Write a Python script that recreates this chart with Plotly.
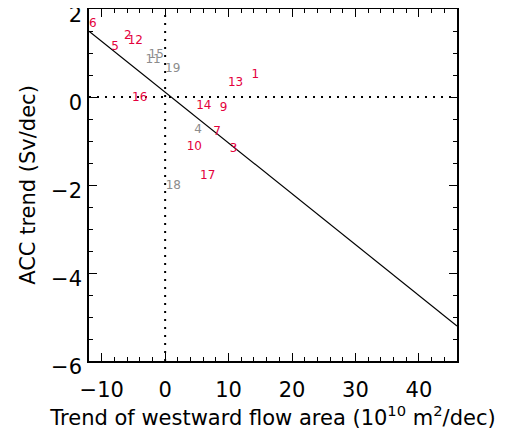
import plotly.graph_objects as go

# trends per model
labels = ['1', '2', '3', '4', '5', '6', '7', '8', '9', '10',
          '11', '12', '13', '14', '15', '16', '17', '18', '19']
area_trend = [14.2, -5.9, 10.8, 5.2, -7.9, -11.4, 8.2, 46.3, 9.2, 4.6,
              -1.9, -4.7, 11.1, 6.1, -1.4, -4.0, 6.7, 1.3, 1.2]
acc_trend = [0.50, 1.39, -1.18, -0.75, 1.14, 1.66, -0.79, -5.66, -0.26, -1.13,
             0.84, 1.27, 0.31, -0.20, 0.95, -0.03, -1.79, -2.02, 0.63]
is_grey = [False, False, False, True, False, False, False, False, False, False,
           True, False, False, False, True, False, False, True, True]

# regression line
fit_x = [-12, 46]
fit_slope = -0.1155
fit_icpt = 0.11

red = '#e4003c'
grey = '#8c8c8c'
font = 'DejaVu Sans'

fig = go.Figure()

fig.add_trace(go.Scatter(
    x=[-12, 46], y=[0, 0], mode='lines',
    line=dict(color='black', width=2, dash='2px,6px'), hoverinfo='skip'))
fig.add_trace(go.Scatter(
    x=[0, 0], y=[-6, 2], mode='lines',
    line=dict(color='black', width=2, dash='2px,6px'), hoverinfo='skip'))

fig.add_trace(go.Scatter(
    x=fit_x, y=[fit_icpt + fit_slope * x for x in fit_x], mode='lines',
    line=dict(color='black', width=1.2)))

fig.add_trace(go.Scatter(
    x=area_trend, y=acc_trend, mode='text', text=labels,
    textposition='middle center',
    textfont=dict(family=font, size=12,
                  color=[grey if g else red for g in is_grey]),
    cliponaxis=False))

axis_common = dict(
    showline=True, linecolor='black', linewidth=1.5, mirror='allticks',
    ticks='inside', ticklen=8, tickwidth=1, tickcolor='black',
    showgrid=False, zeroline=False, automargin=False,
    ticklabeloverflow='allow',
    tickfont=dict(family=font, size=21, color='black'),
)

# page body adds an 8px offset, margins compensate for it
fig.update_layout(
    width=524, height=430,
    paper_bgcolor='white', plot_bgcolor='white',
    showlegend=False,
    margin=dict(l=81, r=75, t=1, b=77),
    xaxis=dict(
        range=[-12, 46], dtick=10, tick0=0,
        minor=dict(dtick=2, ticks='inside', ticklen=4, tickcolor='black'),
        ticklabelstandoff=9,
        title=dict(text='Trend of westward flow area (10<sup>10</sup> m<sup>2</sup>/dec)',
                   font=dict(family=font, size=21, color='black'), standoff=0),
        **axis_common),
    yaxis=dict(
        range=[-6, 2], dtick=2, tick0=0,
        minor=dict(dtick=0.5, ticks='inside', ticklen=4, tickcolor='black'),
        ticklabelstandoff=1, ticklabelshift=6,
        title=dict(text='ACC trend (Sv/dec)',
                   font=dict(family=font, size=21, color='black'), standoff=10),
        **axis_common),
)

fig.write_html('out.html')
